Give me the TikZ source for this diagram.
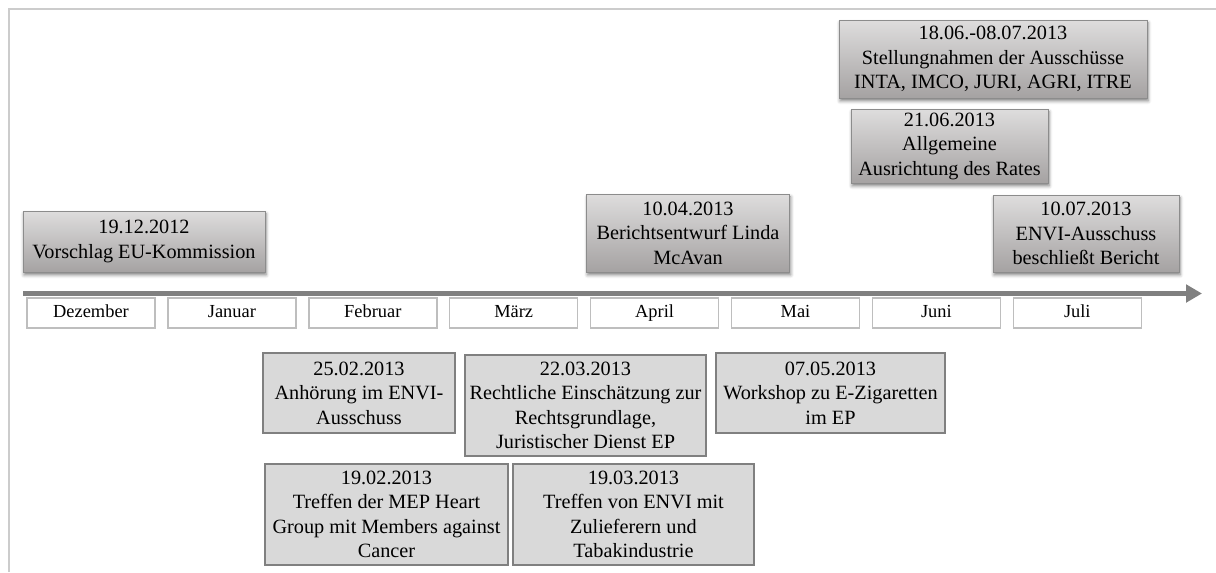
\documentclass[tikz,border=0pt]{standalone}
\usepackage{fontspec}
\setmainfont{Liberation Serif}
\usetikzlibrary{arrows.meta,shadows.blur}

\definecolor{framegray}{RGB}{204,204,204}
\definecolor{shadetop}{RGB}{222,221,221}
\definecolor{shadebot}{RGB}{165,162,162}
\definecolor{boxedge}{RGB}{140,140,140}
\definecolor{flatfill}{RGB}{217,217,217}
\definecolor{flatedge}{RGB}{128,128,128}
\definecolor{monthedge}{RGB}{190,190,190}
\definecolor{axisgray}{RGB}{128,128,128}

\begin{document}
\begin{tikzpicture}[x=0.75pt,y=-0.75pt,
  boxwh/.style 2 args={minimum width=#1*0.75pt, minimum height=#2*0.75pt},
  evtext/.style={font=\fontsize{15.2}{18.4}\selectfont, align=center, text=black},
  raised/.style={evtext, draw=boxedge, line width=0.6pt, inner sep=0pt,
    top color=shadetop, bottom color=shadebot,
    blur shadow={shadow xshift=0.8pt, shadow yshift=-2.2pt,
      shadow blur radius=2.5pt, shadow opacity=50}},
  flat/.style={evtext, draw=flatedge, line width=1.1pt, fill=flatfill, inner sep=0pt},
  month/.style={draw=monthedge, line width=1.1pt, fill=white, inner sep=0pt,
    boxwh={128}{30}, text height=10pt, text depth=3pt,
    font=\fontsize{13.8}{16}\selectfont},
  timeline/.style={draw=axisgray, line width=3.8pt, -{Triangle[length=12pt,width=13pt]}},
  frame/.style={draw=framegray, line width=1.5pt}
]
\useasboundingbox (0,0) rectangle (1216,572);

% outer frame (top and left edges)
\draw[frame] (9,572) -- (9,9) -- (1216,9);

% time axis
\coordinate (tstart) at (23,293.5);
\coordinate (tend) at (1202,293.5);
\draw[timeline] (tstart) -- (tend);

% month boxes
\foreach \m [count=\i from 0] in {Dezember,Januar,Februar,M\"arz,April,Mai,Juni,Juli}{
  \node[month] (m\i) at (91+140.9*\i,313) {\m};
}

% milestones above the axis
\node[raised, boxwh={242}{61}] (e1) at (144,241.5) {19.12.2012\\Vorschlag EU-Kommission};
\node[raised, boxwh={203}{78}] (e2) at (688,233) {10.04.2013\\Berichtsentwurf Linda\\McAvan};
\node[raised, boxwh={186}{77}] (e3) at (1086,233.5) {10.07.2013\\ENVI-Ausschuss\\beschließt Bericht};
\node[raised, boxwh={308}{78}] (e4) at (993,59) {18.06.-08.07.2013\\Stellungnahmen der Ausschüsse\\INTA, IMCO, JURI, AGRI, ITRE};
\node[raised, boxwh={197}{74}] (e5) at (949.5,146) {21.06.2013\\Allgemeine\\Ausrichtung des Rates};

% meetings below the axis
\node[flat, boxwh={192}{80}] (b1) at (359,393) {25.02.2013\\Anhörung im ENVI-\\Ausschuss};
\node[flat, boxwh={241}{101}] (b2) at (585.5,405.5) {22.03.2013\\Rechtliche Einschätzung zur\\Rechtsgrundlage,\\Juristischer Dienst EP};
\node[flat, boxwh={229}{80}] (b3) at (830.5,393) {07.05.2013\\Workshop zu E-Zigaretten\\im EP};
\node[flat, boxwh={243}{101}] (b4) at (386.5,514.5) {19.02.2013\\Treffen der MEP Heart\\Group mit Members against\\Cancer};
\node[flat, boxwh={241}{101}] (b5) at (633.5,514.5) {19.03.2013\\Treffen von ENVI mit\\Zulieferern und\\Tabakindustrie};
\end{tikzpicture}
\end{document}
